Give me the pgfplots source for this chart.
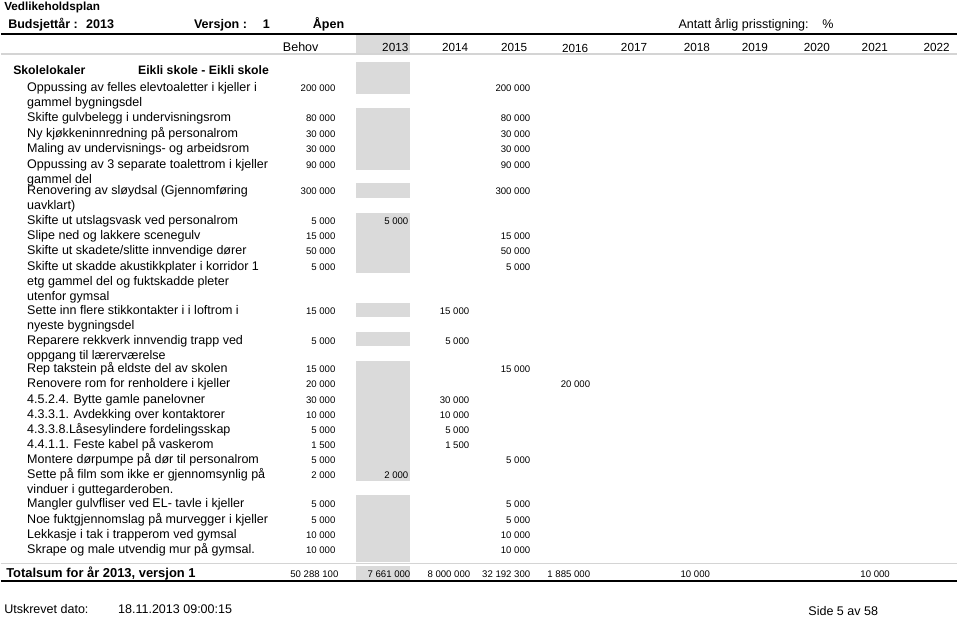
\documentclass[border=0pt]{standalone}
\usepackage{fontspec}
\setmainfont{Liberation Sans}
\usepackage{pgfplots}
\pgfplotsset{compat=1.18}
\definecolor{cellgray}{RGB}{218,218,218}
\definecolor{rulegray}{RGB}{212,212,212}

% one item line: y, text
\newcommand{\itm}[2]{\node[anchor=mid west, inner sep=0pt, yshift=-0.9pt, font=\fontsize{9.4}{11}\selectfont] at (axis cs:26,#1) {#2};}
% small number, right aligned: x, y, text
\newcommand{\val}[3]{\node[anchor=mid east, inner sep=0pt, yshift=-0.9pt, font=\fontsize{7.2}{8}\selectfont] at (axis cs:#1,#2) {#3};}
\newcommand{\yr}[3]{\node[anchor=mid east, inner sep=0pt, yshift=-0.6pt, font=\fontsize{8.8}{10}\selectfont] at (axis cs:#1,#2) {#3};}
\newcommand{\tot}[2]{\node[anchor=mid east, inner sep=0pt, yshift=-0.6pt, font=\fontsize{7.2}{9}\selectfont] at (axis cs:#1,574) {#2};}
\newcommand{\cell}[2]{\addplot[fill=cellgray, draw=none] coordinates {(355,#1) (409,#1) (409,#2) (355,#2)} -- cycle;}

\begin{document}
\begin{tikzpicture}
\begin{axis}[
    x=0.75pt, y=0.75pt,
    xmin=0, xmax=960, ymin=0, ymax=619,
    y dir=reverse,
    hide axis, clip=false,
  ]
  \path (axis cs:0,0) rectangle (axis cs:960,619);

  % shaded 2013 column
  \cell{34}{53}
  \cell{62}{94}
  \cell{108}{170}
  \cell{183}{198}
  \cell{213}{273}
  \cell{303}{317}
  \cell{332}{346}
  \cell{361}{481}
  \cell{496}{563}
  \cell{567}{581}

  % rules
  \addplot[black, line width=1.5pt] coordinates {(0,34) (957,34)};
  \addplot[rulegray, line width=0.9pt] coordinates {(0,54) (957,54)};
  \addplot[rulegray, line width=0.9pt] coordinates {(0,564) (957,564)};
  \addplot[black, line width=1.5pt] coordinates {(0,582) (957,582)};

  % page head
  \node[anchor=mid west, inner sep=0pt, yshift=-0.6pt, font=\bfseries\fontsize{8.8}{11}\selectfont] at (axis cs:3,6) {Vedlikeholdsplan};
  \node[anchor=mid west, inner sep=0pt, yshift=-0.6pt, font=\bfseries\fontsize{9.4}{11}\selectfont] at (axis cs:7,24) {Budsjettår :};
  \node[anchor=mid west, inner sep=0pt, yshift=-0.6pt, font=\bfseries\fontsize{9.4}{11}\selectfont] at (axis cs:85,24) {2013};
  \node[anchor=mid west, inner sep=0pt, yshift=-0.6pt, font=\bfseries\fontsize{9.4}{11}\selectfont] at (axis cs:193,24) {Versjon :};
  \node[anchor=mid west, inner sep=0pt, yshift=-0.6pt, font=\bfseries\fontsize{9.4}{11}\selectfont] at (axis cs:262,24) {1};
  \node[anchor=mid west, inner sep=0pt, yshift=-0.6pt, font=\bfseries\fontsize{9.4}{11}\selectfont] at (axis cs:312,24) {Åpen};
  \node[anchor=mid west, inner sep=0pt, yshift=-0.6pt, font=\fontsize{9.4}{11}\selectfont] at (axis cs:678,24) {Antatt årlig prisstigning:};
  \node[anchor=mid west, inner sep=0pt, yshift=-0.6pt, font=\fontsize{9.4}{11}\selectfont] at (axis cs:822,24) {\%};

  % column heads
  \node[anchor=mid, inner sep=0pt, yshift=-0.6pt, font=\fontsize{9.4}{11}\selectfont] at (axis cs:300,47) {Behov};
  \yr{408}{47}{2013}
  \yr{468}{47}{2014}
  \yr{527}{47}{2015}
  \yr{588}{48}{2016}
  \yr{647}{47}{2017}
  \yr{710}{47}{2018}
  \yr{768}{47}{2019}
  \yr{830}{47}{2020}
  \yr{888}{47}{2021}
  \yr{950}{47}{2022}

  % group head
  \node[anchor=mid west, inner sep=0pt, yshift=-0.6pt, font=\bfseries\fontsize{9.2}{11}\selectfont] at (axis cs:12,70) {Skolelokaler};
  \node[anchor=mid west, inner sep=0pt, yshift=-0.6pt, font=\bfseries\fontsize{9.2}{11}\selectfont] at (axis cs:137,70) {Eikli skole - Eikli skole};

  % items
  \itm{87}{Oppussing av felles elevtoaletter i kjeller i}
  \itm{102}{gammel bygningsdel}
  \val{335}{87}{200 000} \val{530}{87}{200 000}
  \itm{117}{Skifte gulvbelegg i undervisningsrom}
  \val{335}{117}{80 000} \val{530}{117}{80 000}
  \itm{133}{Ny kjøkkeninnredning på personalrom}
  \val{335}{133}{30 000} \val{530}{133}{30 000}
  \itm{148}{Maling av undervisnings- og arbeidsrom}
  \val{335}{148}{30 000} \val{530}{148}{30 000}
  \itm{164}{Oppussing av 3 separate toalettrom i kjeller}
  \itm{179}{gammel del}
  \val{335}{164}{90 000} \val{530}{164}{90 000}
  \itm{190}{Renovering av sløydsal (Gjennomføring}
  \itm{205}{uavklart)}
  \val{335}{190}{300 000} \val{530}{190}{300 000}
  \itm{220}{Skifte ut utslagsvask ved personalrom}
  \val{335}{220}{5 000} \val{408}{220}{5 000}
  \itm{235}{Slipe ned og lakkere scenegulv}
  \val{335}{235}{15 000} \val{530}{235}{15 000}
  \itm{250}{Skifte ut skadete/slitte innvendige dører}
  \val{335}{250}{50 000} \val{530}{250}{50 000}
  \itm{266}{Skifte ut skadde akustikkplater i korridor 1}
  \itm{281}{etg gammel del og fuktskadde pleter}
  \itm{296}{utenfor gymsal}
  \val{335}{266}{5 000} \val{530}{266}{5 000}
  \itm{310}{Sette inn flere stikkontakter i i loftrom i}
  \itm{325}{nyeste bygningsdel}
  \val{335}{310}{15 000} \val{469}{310}{15 000}
  \itm{340}{Reparere rekkverk innvendig trapp ved}
  \itm{355}{oppgang til lærerværelse}
  \val{335}{340}{5 000} \val{469}{340}{5 000}
  \itm{368}{Rep takstein på eldste del av skolen}
  \val{335}{368}{15 000} \val{530}{368}{15 000}
  \itm{383}{Renovere rom for renholdere i kjeller}
  \val{335}{383}{20 000} \val{590}{383}{20 000}
  \itm{399}{4.5.2.4. Bytte gamle panelovner}
  \val{335}{399}{30 000} \val{469}{399}{30 000}
  \itm{414}{4.3.3.1. Avdekking over kontaktorer}
  \val{335}{414}{10 000} \val{469}{414}{10 000}
  \itm{429}{4.3.3.8.Låsesylindere fordelingsskap}
  \val{335}{429}{5 000} \val{469}{429}{5 000}
  \itm{444}{4.4.1.1. Feste kabel på vaskerom}
  \val{335}{444}{1 500} \val{469}{444}{1 500}
  \itm{459}{Montere dørpumpe på dør til personalrom}
  \val{335}{459}{5 000} \val{530}{459}{5 000}
  \itm{474}{Sette på film som ikke er gjennomsynlig på}
  \itm{489}{vinduer i guttegarderoben.}
  \val{335}{474}{2 000} \val{408}{474}{2 000}
  \itm{503}{Mangler gulvfliser ved EL- tavle i kjeller}
  \val{335}{503}{5 000} \val{530}{503}{5 000}
  \itm{519}{Noe fuktgjennomslag på murvegger i kjeller}
  \val{335}{519}{5 000} \val{530}{519}{5 000}
  \itm{534}{Lekkasje i tak i trapperom ved gymsal}
  \val{335}{534}{10 000} \val{530}{534}{10 000}
  \itm{549}{Skrape og male utvendig mur på gymsal.}
  \val{335}{549}{10 000} \val{530}{549}{10 000}

  % totals
  \node[anchor=mid west, inner sep=0pt, yshift=-0.6pt, font=\bfseries\fontsize{9.7}{11}\selectfont] at (axis cs:5,574) {Totalsum for år 2013, versjon 1};
  \tot{338}{50 288 100}
  \tot{410}{7 661 000}
  \tot{470}{8 000 000}
  \tot{530}{32 192 300}
  \tot{590}{1 885 000}
  \tot{710}{10 000}
  \tot{890}{10 000}

  % footer
  \node[anchor=mid west, inner sep=0pt, yshift=-0.6pt, font=\fontsize{9.4}{11}\selectfont] at (axis cs:3,610) {Utskrevet dato:};
  \node[anchor=mid west, inner sep=0pt, yshift=-0.6pt, font=\fontsize{9.4}{11}\selectfont] at (axis cs:117,610) {18.11.2013 09:00:15};
  \node[anchor=mid west, inner sep=0pt, yshift=-0.6pt, font=\fontsize{9.4}{11}\selectfont] at (axis cs:808,612) {Side 5 av 58};
\end{axis}
\end{tikzpicture}
\end{document}
